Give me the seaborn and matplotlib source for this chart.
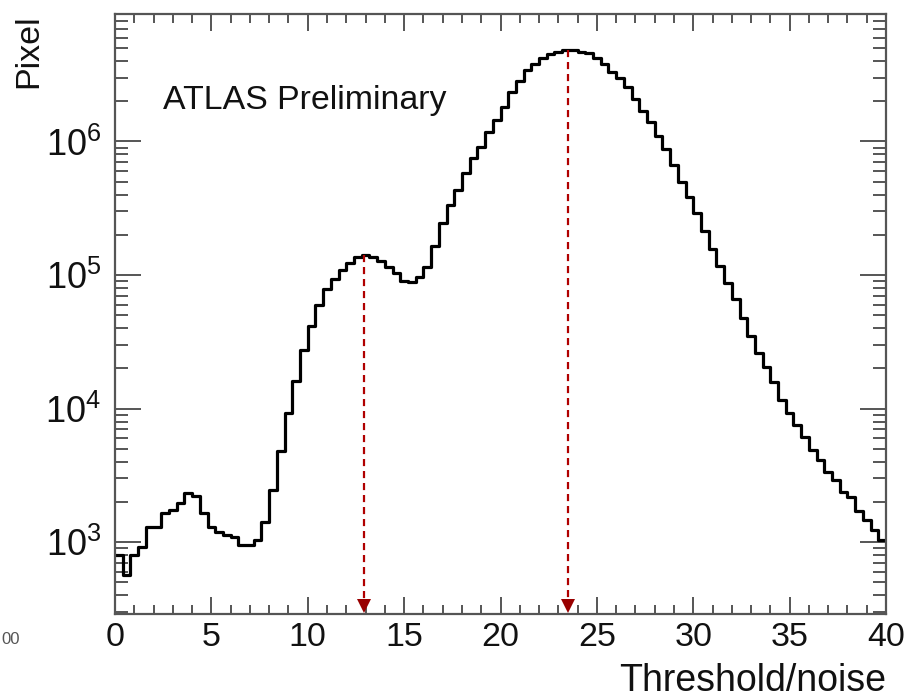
import numpy as np
import pandas as pd
import matplotlib
matplotlib.use("Agg")
import matplotlib.pyplot as plt
import matplotlib.transforms as mtransforms
from matplotlib.ticker import MultipleLocator, LogLocator, NullFormatter
import seaborn as sns

# ---- data ----
x_range = (0, 40)
bin_width = 0.4
counts = [
    800, 566, 800, 920, 1300, 1300, 1650, 1740, 1960, 2330,
    2210, 1660, 1300, 1195, 1130, 1096, 950, 950, 1035, 1420,
    2450, 4830, 9200, 16100, 27700, 41400, 59600, 78100, 92900, 109000,
    124000, 136000, 141000, 137000, 127000, 115000, 103000, 90600, 89000, 96200,
    115000, 165000, 245000, 334000, 433000, 578000, 749000, 915000, 1.18e6, 1.45e6,
    1.82e6, 2.36e6, 2.85e6, 3.43e6, 3.8e6, 4.2e6, 4.5e6, 4.7e6, 4.85e6, 4.85e6,
    4.65e6, 4.6e6, 4.2e6, 3.8e6, 3.33e6, 2.97e6, 2.57e6, 2.07e6, 1.70e6, 1.41e6,
    1.09e6, 8.73e5, 6.67e5, 5.0e5, 3.86e5, 2.9e5, 2.15e5, 1.58e5, 1.17e5, 8.75e4,
    6.57e4, 4.75e4, 3.49e4, 2.59e4, 2.06e4, 1.59e4, 1.17e4, 9.2e3, 7.5e3, 6.15e3,
    4.89e3, 4.11e3, 3.36e3, 2.91e3, 2.38e3, 2.18e3, 1.71e3, 1.46e3, 1.23e3, 1.04e3,
]
peak_x = [12.9, 23.5]
peak_y = [1.41e5, 4.85e6]
x_ticks = [0, 5, 10, 15, 20, 25, 30, 35, 40]
y_range = (290, 9.0e6)

n_bins = len(counts)
bin_centers = x_range[0] + bin_width * (np.arange(n_bins) + 0.5)
df = pd.DataFrame({"ratio": bin_centers, "pixels": counts})

sns.set_theme(style="ticks")
plt.rcParams["font.family"] = ["Liberation Sans", "DejaVu Sans"]
plt.rcParams["mathtext.fontset"] = "custom"
plt.rcParams["mathtext.rm"] = "Liberation Sans"
plt.rcParams["mathtext.default"] = "regular"

fig = plt.figure(figsize=(9.08, 6.97), dpi=100)
ax = fig.add_axes([115 / 908, 1 - 614 / 697, (886 - 115) / 908, (614 - 14) / 697])

sns.histplot(data=df, x="ratio", weights="pixels", binwidth=bin_width,
             binrange=x_range, element="step", fill=False, color="black",
             linewidth=2.3, ax=ax)
ax.set_yscale("log")
ax.set_xlim(*x_range)
ax.set_ylim(*y_range)

# peak markers: dashed red lines with arrowheads at the bottom
red = "#b00000"
offset = mtransforms.offset_copy(ax.transData, fig=fig, x=0, y=8, units="dots")
for px, py in zip(peak_x, peak_y):
    ax.plot([px, px], [py, y_range[0]], color=red, linestyle=(0, (3.2, 2.2)),
            linewidth=1.6, zorder=3)
    ax.plot([px], [y_range[0]], marker="v", markersize=10.5, color="#990000",
            markeredgewidth=0, transform=offset, zorder=4, clip_on=False)

# axes styling (ROOT-like)
frame_col = "#555555"
for s in ax.spines.values():
    s.set_color(frame_col)
    s.set_linewidth(1.6)
ax.xaxis.set_major_locator(MultipleLocator(5))
ax.xaxis.set_minor_locator(MultipleLocator(1))
ax.set_xticks(x_ticks)
ax.yaxis.set_major_locator(LogLocator(base=10, numticks=15))
ax.yaxis.set_minor_locator(LogLocator(base=10, subs=np.arange(2, 10), numticks=15))
ax.yaxis.set_minor_formatter(NullFormatter())
ax.tick_params(which="both", direction="in", top=True, right=True,
               color=frame_col, width=1.4, labelcolor="#111111")
ax.tick_params(axis="x", which="major", length=12.5, labelsize=24.5, pad=6)
ax.tick_params(axis="x", which="minor", length=6.5)
ax.tick_params(axis="y", which="major", length=19, labelsize=26, pad=10)
ax.tick_params(axis="y", which="minor", length=9.5)

ax.set_xlabel("Threshold/noise", fontsize=27, loc="right", color="#111111")
ax.set_ylabel("Pixel", fontsize=24.5, loc="top", color="#111111")
ax.xaxis.label.set_va("baseline")
ax.yaxis.set_label_coords(-0.092, 1.0)
ax.xaxis.set_label_coords(1.0, -0.128)

ax.text(0.062, 0.855, "ATLAS Preliminary", transform=ax.transAxes,
        fontsize=24.4, ha="left", va="center", color="#111111")
fig.text(0.001, 1 - 640 / 697, "00", fontsize=12, ha="left", va="center", color="#555555")

ax.grid(False)
fig.savefig("out.png", dpi=100)
